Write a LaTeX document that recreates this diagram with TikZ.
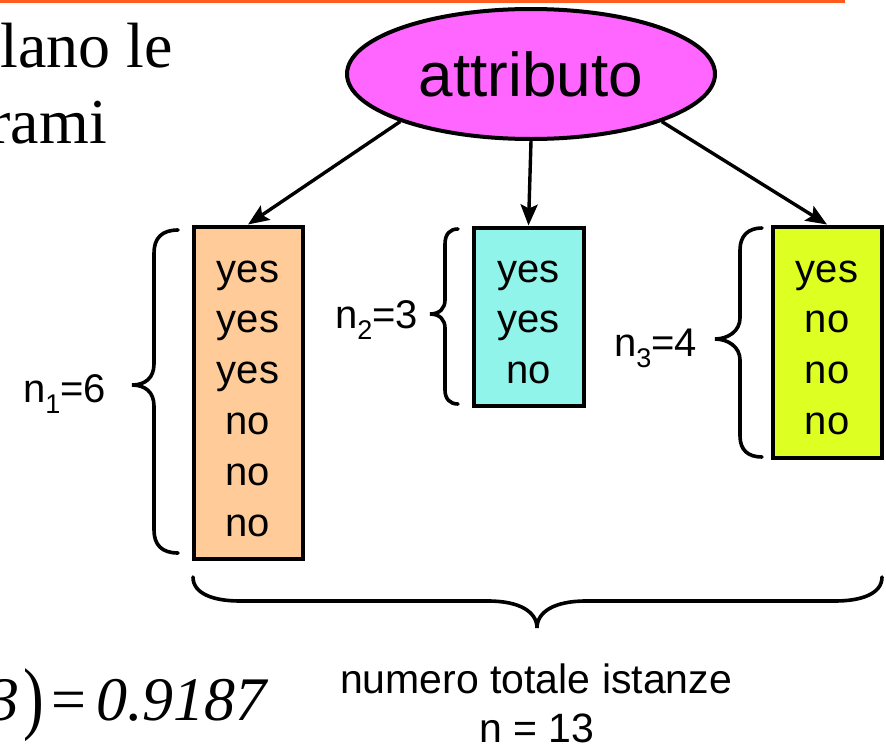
\documentclass[tikz,border=0pt]{standalone}
\usepackage{fontspec}
\setmainfont{Liberation Serif}
\newfontfamily\arial{Liberation Sans}
\usetikzlibrary{shapes.geometric,arrows.meta}
\definecolor{topline}{HTML}{FF5B1F}
\definecolor{attrfill}{HTML}{FF66FF}
\definecolor{boxone}{HTML}{FFCC99}
\definecolor{boxtwo}{HTML}{90F4EA}
\definecolor{boxthree}{HTML}{DDFF22}
% lowered small index used in the n_i labels
\newcommand\lowsub[1]{\raisebox{-11pt}{\fontsize{27}{27}\selectfont #1}}

\begin{document}
\begin{tikzpicture}[x=1pt,y=-1pt,
  sans/.style={font=\arial\fontsize{40}{48}\selectfont, inner sep=0pt},
  valbox/.style={draw, line width=4pt, inner sep=0pt},
  link/.style={line width=3.4pt, -{Stealth[length=21pt,width=17pt,inset=4pt]}},
  brace/.style={line width=3.6pt, line cap=round},
  entry/.style={sans, anchor=base},
  serif/.style={font=\fontsize{64}{64}\selectfont, inner sep=0pt}]
\clip (0,0) rectangle (886,747);
\fill[white] (0,0) rectangle (886,747);

% slide rule along the top
\draw[topline, line width=3.5pt] (0,1) -- (845,1);

% running text at the left
\node[serif, anchor=base east] (t1) at (173,67) {calcolano le};
\node[serif, anchor=base east] (t2) at (107,143) {rami};
\node[font=\fontsize{62}{62}\selectfont, inner sep=0pt, anchor=base east] (res) at (267,720)
  {\itshape 3\hspace{4pt}\upshape\raisebox{-4pt}{\scalebox{1}[1.3]{)}}\hspace{7pt}=\hspace{10pt}\itshape 0.9187};

% attribute node
\node[ellipse, draw, line width=4pt, fill=attrfill, minimum width=368pt, minimum height=130pt,
      inner sep=0pt, font=\arial\fontsize{62}{62}\selectfont] (attr) at (531,74) {attributo};

% partitions
\node[valbox, fill=boxone,   minimum width=109pt, minimum height=332pt] (b1) at (248,392.5) {};
\node[valbox, fill=boxtwo,   minimum width=110pt, minimum height=178pt] (b2) at (528.5,316.5) {};
\node[valbox, fill=boxthree, minimum width=109pt, minimum height=231pt] (b3) at (827,342) {};

\foreach \t [count=\i] in {yes,yes,yes,no,no,no}
  \node[entry] (e1-\i) at (248,{282+50.8*(\i-1)}) {\t};
\foreach \t [count=\i] in {yes,yes,no}
  \node[entry] (e2-\i) at (528.5,{282+50.8*(\i-1)}) {\t};
\foreach \t [count=\i] in {yes,no,no,no}
  \node[entry] (e3-\i) at (827,{282+50.8*(\i-1)}) {\t};

% branches
\draw[link] (attr.-160) -- (b1.north);
\draw[link] (attr.south) -- (b2.north);
\draw[link] (attr.-20) -- (b3.north);

% braces round each partition
\draw[brace] (178,230) .. controls (162,230) and (154,238) .. (154,253) -- (154,364)
  .. controls (154,378) and (145,385) .. (132,385)
  .. controls (145,385) and (154,392) .. (154,406) -- (154,530)
  .. controls (154,545) and (162,553) .. (178,553);
\draw[brace] (458,229) .. controls (450,229) and (445,234) .. (445,244) -- (445,300)
  .. controls (445,308) and (440,314) .. (430,314)
  .. controls (440,314) and (445,320) .. (445,328) -- (445,390)
  .. controls (445,399) and (450,404) .. (458,404);
\draw[brace] (762,228) .. controls (748,228) and (740,236) .. (740,250) -- (740,318)
  .. controls (740,331) and (728,339) .. (715,339)
  .. controls (728,339) and (740,347) .. (740,360) -- (740,436)
  .. controls (740,450) and (748,457) .. (762,457);
\draw[brace] (193,577) .. controls (193,594) and (214,601) .. (240,601) -- (488,601)
  .. controls (520,601) and (537,612) .. (537,628)
  .. controls (537,612) and (554,601) .. (586,601) -- (835,601)
  .. controls (861,601) and (882,594) .. (882,577);

% partition sizes
\node[sans, anchor=base west] (n1) at (23,402) {n\lowsub{1}=6};
\node[sans, anchor=base west] (n2) at (335,328) {n\lowsub{2}=3};
\node[sans, anchor=base west] (n3) at (614,356) {n\lowsub{3}=4};

% total
\node[font=\arial\fontsize{41}{41}\selectfont, inner sep=0pt, anchor=base] (tot) at (536,693) {numero totale istanze};
\node[font=\arial\fontsize{41}{41}\selectfont, inner sep=0pt, anchor=base] (ntot) at (537,742) {n = 13};
\end{tikzpicture}
\end{document}
